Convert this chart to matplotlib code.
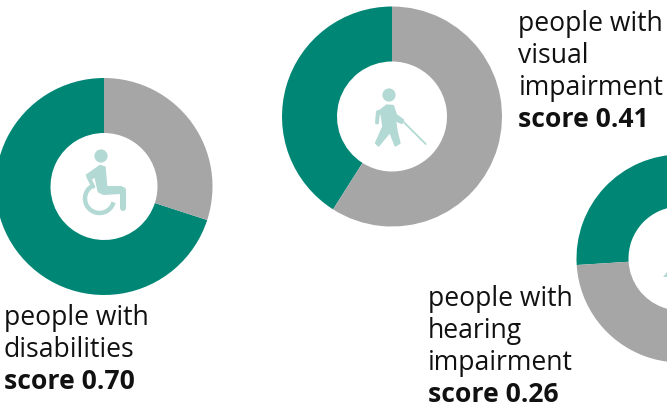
import matplotlib
matplotlib.use('Agg')
import matplotlib.pyplot as plt
from matplotlib.patches import Circle, Arc, Polygon

W, H = 667, 407
plt.rcParams['font.family'] = ['Open Sans', 'DejaVu Sans']

# scores
groups = ['disabilities', 'visual\nimpairment', 'hearing\nimpairment']
scores = [0.70, 0.41, 0.26]
score_labels = ['score 0.70', 'score 0.41', 'score 0.26']

# donut placement in pixels: cx, cy, outer, inner
donuts = [(104, 186.5, 108.5, 53.5), (392, 116.5, 110, 55), (680.5, 258.5, 104, 52)]
# text placement: left edge and baseline of the first line
labels_at = [(3.5, 325), (518.5, 31), (427.5, 306)]

TEAL = '#008675'
GREY = '#a6a6a6'
ICON = '#b3d9d4'
TEXT = '#111111'
FS = 19.1
LINE_GAP = 32

fig = plt.figure(figsize=(W / 100, H / 100), dpi=100)
ax = fig.add_axes([0, 0, 1, 1])


def flip(y):
    return H - y


def stroke(xs, ys, px):
    ax.plot(xs, [flip(y) for y in ys], color=ICON, lw=px * 0.72,
            solid_capstyle='round', solid_joinstyle='round', zorder=5)


def blob(points, edge=1.0):
    ax.add_patch(Polygon([(x, flip(y)) for x, y in points], closed=True, facecolor=ICON,
                         edgecolor=ICON, lw=edge, joinstyle='round', zorder=5))


for s, (cx, cy, ro, ri) in zip(scores, donuts):
    # teal runs counter clockwise from 12 o'clock
    ax.pie([s, 1 - s], colors=[TEAL, GREY], startangle=90, counterclock=True,
           center=(cx, flip(cy)), radius=ro,
           wedgeprops=dict(width=ro - ri, linewidth=0), frame=False)

# wheelchair icon
ax.add_patch(Circle((101, flip(156)), 6.6, color=ICON, lw=0, zorder=5))
ax.add_patch(Arc((99.5, flip(198.5)), 29, 29, theta1=120, theta2=345,
                 color=ICON, lw=3.2, zorder=5))
blob([(86.5, 175), (100, 165.5), (105, 167), (106.7, 186.7), (121.7, 186.7), (121.7, 193.3),
      (103.3, 194.3), (98.3, 191.7), (95, 176.7), (90, 180)])
stroke([88.3, 93.3], [176.7, 186.7], 4)
stroke([118.3, 123.3, 123.3], [190, 190, 208], 6)

# person with a cane
ax.add_patch(Circle((389, flip(95)), 6.6, color=ICON, lw=0, zorder=5))
blob([(378.5, 112), (386.7, 105.5), (393, 106), (396, 115), (403, 120), (401.7, 123), (395, 120),
      (396.7, 131.7), (399.5, 143), (395.5, 145.5), (390, 131.7), (378.5, 145.5), (376, 143),
      (383.3, 126.7), (381.7, 115)], edge=1.6)
stroke([378, 377], [112, 122.5], 4)
stroke([403.3, 425.7], [121.7, 144], 1.8)

# the bit of the hearing icon that is still on the canvas
blob([(663, 277), (667, 272), (667, 277)], edge=0)

for g, lab, (x, y) in zip(groups, score_labels, labels_at):
    lines = ('people with\n' + g).split('\n')
    for i, line in enumerate(lines):
        ax.text(x, flip(y + i * LINE_GAP), line, fontsize=FS, color=TEXT, va='baseline', ha='left')
    ax.text(x, flip(y + len(lines) * LINE_GAP), lab, fontsize=FS, fontweight='bold', color=TEXT,
            va='baseline', ha='left')

ax.set_xlim(0, W)
ax.set_ylim(0, H)
ax.set_aspect('auto')
ax.axis('off')

fig.savefig('out.png', dpi=100)
